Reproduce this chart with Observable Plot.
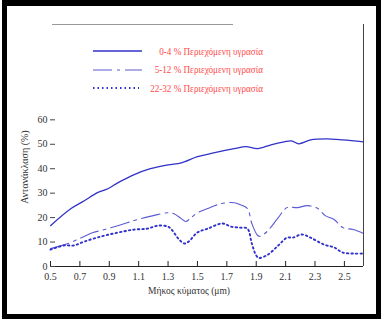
<!DOCTYPE html>
<html>
<head>
<meta charset="utf-8">
<script src="https://cdn.jsdelivr.net/npm/d3@7"></script>
<script src="https://cdn.jsdelivr.net/npm/@observablehq/plot@0.6"></script>
<style>
  html, body { margin: 0; padding: 0; background: #fff; }
  #wrap { position: relative; width: 382px; height: 321px; overflow: hidden; }
  #border {
    position: absolute; left: 2px; top: 0; width: 379px; height: 319px;
    box-sizing: border-box; border-style: solid; border-color: #000;
    border-width: 6px 5px 5px 5px; pointer-events: none;
  }
  #legend {
    position: absolute; left: 93px; top: 42px; width: 170px;
    font-family: "Liberation Serif", "Times New Roman", "DejaVu Serif", serif;
    font-size: 10px; color: #ff4a4a;
  }
  .row { display: flex; align-items: center; height: 18.5px; }
  .row .lab { flex: 1; text-align: right; white-space: nowrap; }
  .row .lab span { display: inline-block; transform: scaleX(0.91); transform-origin: right center; }
  #ytitle {
    position: absolute; left: 25px; top: 167px; white-space: nowrap;
    transform: translate(-50%, -50%) rotate(-90deg);
    font-family: "Liberation Serif", "Times New Roman", "DejaVu Serif", serif;
    font-size: 10px; color: #333; line-height: 1;
  }
</style>
</head>
<body>
<div id="wrap">
  <div id="chart"></div>
  <div id="legend"></div>
  <div id="ytitle"></div>
  <div id="border"></div>
</div>
<script>
// Reflectance spectra of soil at three moisture levels
const seriesNames = [
  "0-4 % Περιεχόμενη υγρασία",
  "5-12 % Περιεχόμενη υγρασία",
  "22-32 % Περιεχόμενη υγρασία"
];

// 0-4 % moisture
const dryWl = [0.5, 0.64, 0.73, 0.82, 0.89, 0.96, 1.07, 1.18, 1.30, 1.39, 1.50, 1.61, 1.75, 1.83, 1.91, 2.0, 2.09, 2.14, 2.19, 2.27, 2.38, 2.49, 2.63];
const dryRefl = [16.7, 23.7, 26.9, 30.2, 31.8, 34.3, 37.6, 40, 41.6, 42.4, 44.9, 46.5, 48.2, 49.0, 48.2, 49.8, 51, 51.4, 50.2, 51.8, 52.2, 51.8, 51];

// 5-12 % moisture
const moistWl = [0.5, 0.62, 0.71, 0.79, 0.86, 0.98, 1.09, 1.2, 1.30, 1.34, 1.39, 1.42, 1.45, 1.50, 1.57, 1.66, 1.75, 1.79, 1.84, 1.87, 1.91, 1.93, 1.98, 2.05, 2.11, 2.18, 2.25, 2.32, 2.37, 2.43, 2.49, 2.56, 2.63];
const moistRefl = [7.3, 9.4, 11.8, 13.9, 15, 17.1, 19.2, 20.8, 22, 21.6, 19.6, 18.4, 19.6, 22, 23.7, 25.7, 26.1, 25.3, 23.7, 17.6, 12.7, 12.4, 14.7, 20, 24.1, 24.1, 24.9, 23.7, 20.8, 19.2, 15.9, 15.1, 13.5];

// 22-32 % moisture
const wetWl = [0.5, 0.59, 0.66, 0.73, 0.84, 0.96, 1.07, 1.16, 1.23, 1.30, 1.33, 1.37, 1.41, 1.44, 1.50, 1.57, 1.67, 1.73, 1.79, 1.84, 1.87, 1.90, 1.92, 1.98, 2.05, 2.11, 2.15, 2.21, 2.27, 2.36, 2.43, 2.49, 2.56, 2.63];
const wetRefl = [6.9, 8.6, 8.6, 10.2, 12.2, 13.9, 15.1, 15.5, 16.7, 16.3, 14.7, 11.4, 9.4, 10.2, 13.9, 15.5, 17.6, 16.3, 15.9, 15.5, 9.4, 4.5, 3.5, 4.9, 8.6, 11.8, 11.8, 13.1, 11.8, 9.0, 7.8, 5.7, 5.3, 5.3];

const xTicks = [0.5, 0.7, 0.9, 1.1, 1.3, 1.5, 1.7, 1.9, 2.1, 2.3, 2.5];
const yTicks = [0, 10, 20, 30, 40, 50, 60];
const xDomain = [0.5, 2.63];
const yDomain = [0, 99];
const xTitle = "Μήκος κύματος (μm)";
const yTitle = "Αντανάκλαση (%)";

const toRows = (wl, refl) => wl.map((w, i) => ({w, r: refl[i]}));
const series = [
  {name: seriesNames[0], rows: toRows(dryWl, dryRefl), stroke: "#3232c8", width: 1.3, dash: null},
  {name: seriesNames[1], rows: toRows(moistWl, moistRefl), stroke: "#5a5ad2", width: 1.1, dash: "19 5 3 5"},
  {name: seriesNames[2], rows: toRows(wetWl, wetRefl), stroke: "#3030cc", width: 1.9, dash: "1.5 3"}
];

const font = "'Liberation Serif', 'Times New Roman', serif";
const chart = Plot.plot({
  width: 382,
  height: 321,
  marginLeft: 50,
  marginRight: 19,
  marginTop: 24,
  marginBottom: 55,
  style: {fontFamily: font, fontSize: "10px", background: "transparent", color: "#333"},
  x: {domain: xDomain},
  y: {domain: yDomain},
  marks: [
    ...series.map(s => Plot.line(s.rows, {
      x: "w", y: "r", curve: "catmull-rom",
      stroke: s.stroke, strokeWidth: s.width, strokeDasharray: s.dash
    })),
    Plot.ruleY([yDomain[0]], {stroke: "#222", strokeWidth: 1.2}),
    Plot.ruleX([xDomain[1]], {stroke: "#444", strokeWidth: 1}),
    Plot.ruleY([yDomain[1]], {stroke: "#999", strokeWidth: 1, strokeDasharray: "0 2 181 1000"}),
    Plot.axisX(xTicks, {tickSize: -5, tickPadding: 11, label: null, fontSize: 10, fontFamily: font, tickFormat: d3.format(".1f"), stroke: "#222"}),
    Plot.axisY(yTicks, {tickSize: -5, tickPadding: 8, label: null, fontSize: 10, fontFamily: font, stroke: "#444"}),
    Plot.text([xTitle], {frameAnchor: "bottom", dx: -18, dy: 27, fontSize: 9.5, fontFamily: font, fill: "#333"})
  ]
});
document.getElementById("chart").append(chart);
document.getElementById("ytitle").textContent = yTitle;

// Legend: line sample followed by right-aligned label
const legend = d3.select("#legend");
series.forEach(s => {
  const row = legend.append("div").attr("class", "row");
  const sw = row.append("svg").attr("width", 50).attr("height", 6);
  sw.append("line")
    .attr("x1", 0).attr("x2", 49).attr("y1", 3).attr("y2", 3)
    .attr("stroke", s.stroke).attr("stroke-width", s.width)
    .attr("stroke-dasharray", s.dash);
  row.append("div").attr("class", "lab").append("span").text(s.name);
});
</script>
</body>
</html>
